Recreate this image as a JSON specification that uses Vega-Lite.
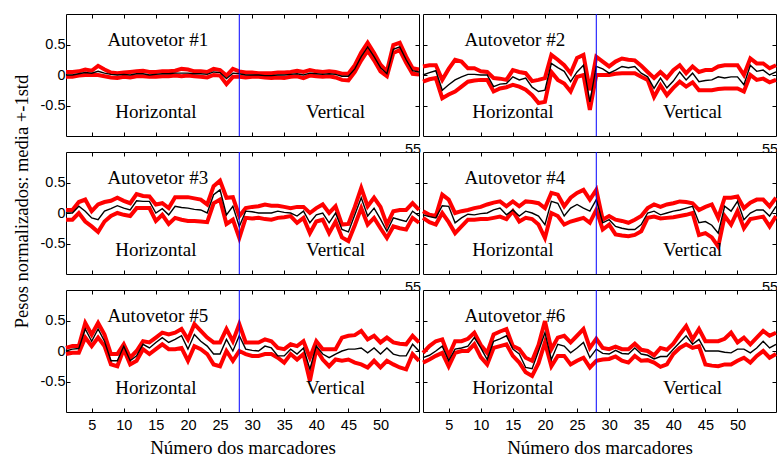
{
"$schema": "https://vega.github.io/schema/vega-lite/v6.json",
"background": "white",
"padding": {"left": 11, "top": 13, "right": 0, "bottom": 0},
"datasets": {
"d": [
{"p":1,"k":1,"m":0,"hi":0.05,"lo":-0.03},{"p":1,"k":2,"m":0,"hi":0.05,"lo":-0.03},{"p":1,"k":3,"m":0.02,"hi":0.06,"lo":-0.01},{"p":1,"k":4,"m":0.04,"hi":0.09,"lo":0},{"p":1,"k":5,"m":0.03,"hi":0.07,"lo":0},{"p":1,"k":6,"m":0.06,"hi":0.15,"lo":0},{"p":1,"k":7,"m":0.03,"hi":0.09,"lo":-0.02},{"p":1,"k":8,"m":0.01,"hi":0.04,"lo":-0.04},{"p":1,"k":9,"m":0,"hi":0.03,"lo":-0.05},{"p":1,"k":10,"m":0.01,"hi":0.04,"lo":-0.03},{"p":1,"k":11,"m":0,"hi":0.05,"lo":-0.04},{"p":1,"k":12,"m":0.02,"hi":0.06,"lo":-0.02},{"p":1,"k":13,"m":0.02,"hi":0.07,"lo":-0.02},{"p":1,"k":14,"m":0,"hi":0.05,"lo":-0.03},{"p":1,"k":15,"m":0.01,"hi":0.05,"lo":-0.03},{"p":1,"k":16,"m":0.02,"hi":0.06,"lo":-0.02},{"p":1,"k":17,"m":0.02,"hi":0.06,"lo":-0.02},{"p":1,"k":18,"m":0.03,"hi":0.07,"lo":-0.01},{"p":1,"k":19,"m":0.03,"hi":0.1,"lo":-0.02},{"p":1,"k":20,"m":0.03,"hi":0.09,"lo":-0.01},{"p":1,"k":21,"m":0.02,"hi":0.06,"lo":-0.02},{"p":1,"k":22,"m":0.02,"hi":0.06,"lo":-0.03},{"p":1,"k":23,"m":0.01,"hi":0.05,"lo":-0.04},{"p":1,"k":24,"m":0.05,"hi":0.1,"lo":0},{"p":1,"k":25,"m":0.04,"hi":0.08,"lo":-0.01},{"p":1,"k":26,"m":-0.06,"hi":-0.01,"lo":-0.15},{"p":1,"k":27,"m":0.03,"hi":0.1,"lo":-0.03},{"p":1,"k":28,"m":0.02,"hi":0.06,"lo":-0.03},{"p":1,"k":29,"m":0,"hi":0.04,"lo":-0.04},{"p":1,"k":30,"m":0,"hi":0.04,"lo":-0.03},{"p":1,"k":31,"m":0,"hi":0.03,"lo":-0.03},{"p":1,"k":32,"m":-0.01,"hi":0.03,"lo":-0.04},{"p":1,"k":33,"m":-0.01,"hi":0.03,"lo":-0.05},{"p":1,"k":34,"m":0,"hi":0.04,"lo":-0.04},{"p":1,"k":35,"m":0,"hi":0.04,"lo":-0.05},{"p":1,"k":36,"m":0.01,"hi":0.05,"lo":-0.03},{"p":1,"k":37,"m":0.02,"hi":0.07,"lo":-0.02},{"p":1,"k":38,"m":0,"hi":0.05,"lo":-0.05},{"p":1,"k":39,"m":0.03,"hi":0.08,"lo":-0.01},{"p":1,"k":40,"m":0.02,"hi":0.06,"lo":-0.02},{"p":1,"k":41,"m":0.01,"hi":0.05,"lo":-0.03},{"p":1,"k":42,"m":0.02,"hi":0.06,"lo":-0.02},{"p":1,"k":43,"m":0.01,"hi":0.05,"lo":-0.04},{"p":1,"k":44,"m":-0.02,"hi":0.02,"lo":-0.08},{"p":1,"k":45,"m":-0.02,"hi":0.02,"lo":-0.09},{"p":1,"k":46,"m":0.1,"hi":0.16,"lo":0.05},{"p":1,"k":47,"m":0.3,"hi":0.37,"lo":0.24},{"p":1,"k":48,"m":0.46,"hi":0.53,"lo":0.4},{"p":1,"k":49,"m":0.3,"hi":0.36,"lo":0.24},{"p":1,"k":50,"m":0.12,"hi":0.17,"lo":0.06},{"p":1,"k":51,"m":0.02,"hi":0.06,"lo":-0.02},{"p":1,"k":52,"m":0.42,"hi":0.49,"lo":0.36},{"p":1,"k":53,"m":0.46,"hi":0.53,"lo":0.41},{"p":1,"k":54,"m":0.25,"hi":0.3,"lo":0.2},{"p":1,"k":55,"m":0.07,"hi":0.11,"lo":0.02},{"p":1,"k":56,"m":0.05,"hi":0.09,"lo":0.01},
{"p":2,"k":1,"m":0,"hi":0.14,"lo":-0.11},{"p":2,"k":2,"m":0.04,"hi":0.16,"lo":-0.07},{"p":2,"k":3,"m":0.07,"hi":0.16,"lo":-0.05},{"p":2,"k":4,"m":-0.25,"hi":-0.08,"lo":-0.38},{"p":2,"k":5,"m":-0.16,"hi":0.1,"lo":-0.32},{"p":2,"k":6,"m":-0.08,"hi":0.25,"lo":-0.27},{"p":2,"k":7,"m":-0.03,"hi":0.22,"lo":-0.19},{"p":2,"k":8,"m":0.01,"hi":0.11,"lo":-0.11},{"p":2,"k":9,"m":0.01,"hi":0.11,"lo":-0.09},{"p":2,"k":10,"m":0,"hi":0.06,"lo":-0.08},{"p":2,"k":11,"m":0,"hi":0.05,"lo":-0.08},{"p":2,"k":12,"m":-0.19,"hi":-0.05,"lo":-0.27},{"p":2,"k":13,"m":-0.15,"hi":-0.06,"lo":-0.22},{"p":2,"k":14,"m":-0.14,"hi":-0.08,"lo":-0.2},{"p":2,"k":15,"m":-0.03,"hi":0.08,"lo":-0.16},{"p":2,"k":16,"m":-0.08,"hi":0.05,"lo":-0.19},{"p":2,"k":17,"m":-0.05,"hi":0.03,"lo":-0.24},{"p":2,"k":18,"m":-0.2,"hi":-0.1,"lo":-0.33},{"p":2,"k":19,"m":-0.27,"hi":-0.08,"lo":-0.46},{"p":2,"k":20,"m":-0.25,"hi":-0.05,"lo":-0.44},{"p":2,"k":21,"m":0.19,"hi":0.33,"lo":0.05},{"p":2,"k":22,"m":0.12,"hi":0.25,"lo":-0.08},{"p":2,"k":23,"m":0.06,"hi":0.16,"lo":-0.14},{"p":2,"k":24,"m":-0.11,"hi":0.03,"lo":-0.27},{"p":2,"k":25,"m":0.05,"hi":0.28,"lo":-0.03},{"p":2,"k":26,"m":0.16,"hi":0.33,"lo":0},{"p":2,"k":27,"m":-0.44,"hi":-0.25,"lo":-0.57},{"p":2,"k":28,"m":0.14,"hi":0.3,"lo":0},{"p":2,"k":29,"m":0.1,"hi":0.22,"lo":0},{"p":2,"k":30,"m":0.03,"hi":0.14,"lo":0},{"p":2,"k":31,"m":0.08,"hi":0.22,"lo":0.02},{"p":2,"k":32,"m":0.14,"hi":0.27,"lo":0.03},{"p":2,"k":33,"m":0.12,"hi":0.25,"lo":0.03},{"p":2,"k":34,"m":0.14,"hi":0.24,"lo":0.03},{"p":2,"k":35,"m":0.03,"hi":0.15,"lo":-0.03},{"p":2,"k":36,"m":-0.03,"hi":0.05,"lo":-0.08},{"p":2,"k":37,"m":-0.22,"hi":-0.05,"lo":-0.36},{"p":2,"k":38,"m":-0.05,"hi":0.05,"lo":-0.17},{"p":2,"k":39,"m":-0.21,"hi":-0.05,"lo":-0.33},{"p":2,"k":40,"m":-0.1,"hi":0.08,"lo":-0.21},{"p":2,"k":41,"m":0.05,"hi":0.16,"lo":-0.11},{"p":2,"k":42,"m":-0.08,"hi":0.03,"lo":-0.19},{"p":2,"k":43,"m":0.03,"hi":0.14,"lo":-0.12},{"p":2,"k":44,"m":-0.11,"hi":0.05,"lo":-0.25},{"p":2,"k":45,"m":-0.09,"hi":0.08,"lo":-0.25},{"p":2,"k":46,"m":-0.08,"hi":0.08,"lo":-0.25},{"p":2,"k":47,"m":-0.03,"hi":0.14,"lo":-0.23},{"p":2,"k":48,"m":-0.05,"hi":0.16,"lo":-0.22},{"p":2,"k":49,"m":-0.03,"hi":0.16,"lo":-0.22},{"p":2,"k":50,"m":-0.03,"hi":0.16,"lo":-0.22},{"p":2,"k":51,"m":-0.16,"hi":0,"lo":-0.27},{"p":2,"k":52,"m":0.16,"hi":0.27,"lo":0},{"p":2,"k":53,"m":0.06,"hi":0.19,"lo":-0.08},{"p":2,"k":54,"m":0.08,"hi":0.19,"lo":-0.06},{"p":2,"k":55,"m":0,"hi":0.11,"lo":-0.12},{"p":2,"k":56,"m":0.05,"hi":0.16,"lo":-0.08},
{"p":3,"k":1,"m":0,"hi":0.05,"lo":-0.11},{"p":3,"k":2,"m":0,"hi":0.05,"lo":-0.11},{"p":3,"k":3,"m":0.11,"hi":0.18,"lo":0},{"p":3,"k":4,"m":0.03,"hi":0.22,"lo":-0.14},{"p":3,"k":5,"m":-0.08,"hi":0.03,"lo":-0.22},{"p":3,"k":6,"m":-0.11,"hi":0.14,"lo":-0.31},{"p":3,"k":7,"m":0.03,"hi":0.18,"lo":-0.14},{"p":3,"k":8,"m":0.07,"hi":0.2,"lo":-0.05},{"p":3,"k":9,"m":0.12,"hi":0.25,"lo":0},{"p":3,"k":10,"m":0.08,"hi":0.2,"lo":-0.03},{"p":3,"k":11,"m":0.05,"hi":0.16,"lo":-0.05},{"p":3,"k":12,"m":0.2,"hi":0.31,"lo":0.08},{"p":3,"k":13,"m":0.19,"hi":0.28,"lo":0.08},{"p":3,"k":14,"m":0.19,"hi":0.27,"lo":0.08},{"p":3,"k":15,"m":0,"hi":0.14,"lo":-0.13},{"p":3,"k":16,"m":0.07,"hi":0.16,"lo":-0.03},{"p":3,"k":17,"m":-0.03,"hi":0.08,"lo":-0.18},{"p":3,"k":18,"m":0.11,"hi":0.26,"lo":-0.08},{"p":3,"k":19,"m":0.09,"hi":0.26,"lo":-0.11},{"p":3,"k":20,"m":0.08,"hi":0.26,"lo":-0.13},{"p":3,"k":21,"m":0.06,"hi":0.24,"lo":-0.13},{"p":3,"k":22,"m":0.05,"hi":0.22,"lo":-0.14},{"p":3,"k":23,"m":0,"hi":0.14,"lo":-0.15},{"p":3,"k":24,"m":0.3,"hi":0.44,"lo":0.16},{"p":3,"k":25,"m":0.38,"hi":0.53,"lo":0.22},{"p":3,"k":26,"m":-0.03,"hi":0.25,"lo":-0.18},{"p":3,"k":27,"m":0.11,"hi":0.26,"lo":-0.11},{"p":3,"k":28,"m":-0.22,"hi":-0.05,"lo":-0.41},{"p":3,"k":29,"m":0.03,"hi":0.08,"lo":-0.08},{"p":3,"k":30,"m":0.02,"hi":0.1,"lo":-0.09},{"p":3,"k":31,"m":0,"hi":0.11,"lo":-0.08},{"p":3,"k":32,"m":0,"hi":0.14,"lo":-0.1},{"p":3,"k":33,"m":0,"hi":0.12,"lo":-0.11},{"p":3,"k":34,"m":0.03,"hi":0.12,"lo":-0.08},{"p":3,"k":35,"m":0.01,"hi":0.1,"lo":-0.07},{"p":3,"k":36,"m":0,"hi":0.08,"lo":-0.05},{"p":3,"k":37,"m":-0.05,"hi":0.1,"lo":-0.16},{"p":3,"k":38,"m":0.03,"hi":0.1,"lo":-0.08},{"p":3,"k":39,"m":-0.16,"hi":0,"lo":-0.33},{"p":3,"k":40,"m":-0.03,"hi":0.08,"lo":-0.14},{"p":3,"k":41,"m":0,"hi":0.14,"lo":-0.11},{"p":3,"k":42,"m":-0.16,"hi":0,"lo":-0.33},{"p":3,"k":43,"m":0,"hi":0.11,"lo":-0.14},{"p":3,"k":44,"m":-0.27,"hi":-0.19,"lo":-0.4},{"p":3,"k":45,"m":-0.31,"hi":-0.18,"lo":-0.46},{"p":3,"k":46,"m":-0.03,"hi":0.1,"lo":-0.2},{"p":3,"k":47,"m":0.25,"hi":0.41,"lo":0.08},{"p":3,"k":48,"m":-0.05,"hi":0.11,"lo":-0.19},{"p":3,"k":49,"m":0.08,"hi":0.25,"lo":-0.08},{"p":3,"k":50,"m":-0.1,"hi":0.1,"lo":-0.25},{"p":3,"k":51,"m":-0.3,"hi":-0.19,"lo":-0.41},{"p":3,"k":52,"m":-0.08,"hi":0.03,"lo":-0.22},{"p":3,"k":53,"m":-0.11,"hi":0.05,"lo":-0.25},{"p":3,"k":54,"m":-0.14,"hi":0.05,"lo":-0.27},{"p":3,"k":55,"m":0.03,"hi":0.16,"lo":-0.08},{"p":3,"k":56,"m":-0.05,"hi":0.05,"lo":-0.16},
{"p":4,"k":1,"m":-0.03,"hi":0.03,"lo":-0.08},{"p":4,"k":2,"m":-0.06,"hi":-0.03,"lo":-0.15},{"p":4,"k":3,"m":-0.08,"hi":-0.05,"lo":-0.19},{"p":4,"k":4,"m":0.12,"hi":0.3,"lo":0},{"p":4,"k":5,"m":0.11,"hi":0.22,"lo":-0.15},{"p":4,"k":6,"m":-0.16,"hi":0,"lo":-0.33},{"p":4,"k":7,"m":-0.08,"hi":0.03,"lo":-0.22},{"p":4,"k":8,"m":-0.02,"hi":0.05,"lo":-0.11},{"p":4,"k":9,"m":-0.03,"hi":0.08,"lo":-0.11},{"p":4,"k":10,"m":-0.01,"hi":0.1,"lo":-0.1},{"p":4,"k":11,"m":0,"hi":0.14,"lo":-0.1},{"p":4,"k":12,"m":0.05,"hi":0.17,"lo":-0.08},{"p":4,"k":13,"m":0.08,"hi":0.19,"lo":-0.06},{"p":4,"k":14,"m":-0.03,"hi":0.11,"lo":-0.1},{"p":4,"k":15,"m":0.05,"hi":0.19,"lo":0.03},{"p":4,"k":16,"m":-0.05,"hi":0.11,"lo":-0.14},{"p":4,"k":17,"m":0.03,"hi":0.19,"lo":-0.08},{"p":4,"k":18,"m":0,"hi":0.18,"lo":-0.1},{"p":4,"k":19,"m":-0.05,"hi":0.16,"lo":-0.19},{"p":4,"k":20,"m":-0.19,"hi":0.08,"lo":-0.41},{"p":4,"k":21,"m":0.19,"hi":0.33,"lo":0},{"p":4,"k":22,"m":0.16,"hi":0.3,"lo":-0.05},{"p":4,"k":23,"m":-0.05,"hi":0.11,"lo":-0.19},{"p":4,"k":24,"m":0.08,"hi":0.25,"lo":-0.14},{"p":4,"k":25,"m":0.14,"hi":0.33,"lo":-0.11},{"p":4,"k":26,"m":0.08,"hi":0.38,"lo":-0.08},{"p":4,"k":27,"m":0.03,"hi":0.22,"lo":-0.16},{"p":4,"k":28,"m":0.22,"hi":0.38,"lo":0.05},{"p":4,"k":29,"m":-0.16,"hi":-0.11,"lo":-0.27},{"p":4,"k":30,"m":-0.11,"hi":-0.05,"lo":-0.19},{"p":4,"k":31,"m":-0.22,"hi":-0.11,"lo":-0.35},{"p":4,"k":32,"m":-0.25,"hi":-0.13,"lo":-0.37},{"p":4,"k":33,"m":-0.27,"hi":-0.16,"lo":-0.38},{"p":4,"k":34,"m":-0.27,"hi":-0.11,"lo":-0.36},{"p":4,"k":35,"m":-0.19,"hi":-0.05,"lo":-0.3},{"p":4,"k":36,"m":0,"hi":0.08,"lo":-0.08},{"p":4,"k":37,"m":0.03,"hi":0.14,"lo":-0.06},{"p":4,"k":38,"m":-0.03,"hi":0.1,"lo":-0.09},{"p":4,"k":39,"m":0,"hi":0.14,"lo":-0.08},{"p":4,"k":40,"m":0.03,"hi":0.16,"lo":-0.07},{"p":4,"k":41,"m":0.05,"hi":0.19,"lo":-0.05},{"p":4,"k":42,"m":0.08,"hi":0.18,"lo":-0.03},{"p":4,"k":43,"m":0.11,"hi":0.16,"lo":0},{"p":4,"k":44,"m":-0.16,"hi":0.05,"lo":-0.36},{"p":4,"k":45,"m":-0.14,"hi":0.1,"lo":-0.33},{"p":4,"k":46,"m":-0.2,"hi":0.14,"lo":-0.4},{"p":4,"k":47,"m":-0.33,"hi":-0.08,"lo":-0.55},{"p":4,"k":48,"m":0.11,"hi":0.25,"lo":-0.05},{"p":4,"k":49,"m":0.03,"hi":0.25,"lo":-0.19},{"p":4,"k":50,"m":0.19,"hi":0.27,"lo":0.03},{"p":4,"k":51,"m":-0.11,"hi":0.08,"lo":-0.25},{"p":4,"k":52,"m":0,"hi":0.17,"lo":-0.1},{"p":4,"k":53,"m":0.05,"hi":0.22,"lo":-0.08},{"p":4,"k":54,"m":0.05,"hi":0.22,"lo":-0.06},{"p":4,"k":55,"m":-0.05,"hi":0.11,"lo":-0.22},{"p":4,"k":56,"m":0.11,"hi":0.25,"lo":-0.05},
{"p":5,"k":1,"m":0,"hi":0.05,"lo":-0.05},{"p":5,"k":2,"m":0.03,"hi":0.08,"lo":-0.03},{"p":5,"k":3,"m":0.04,"hi":0.08,"lo":-0.03},{"p":5,"k":4,"m":0.36,"hi":0.46,"lo":0.22},{"p":5,"k":5,"m":0.16,"hi":0.27,"lo":0.08},{"p":5,"k":6,"m":0.36,"hi":0.46,"lo":0.22},{"p":5,"k":7,"m":0.16,"hi":0.27,"lo":0.08},{"p":5,"k":8,"m":-0.16,"hi":-0.05,"lo":-0.22},{"p":5,"k":9,"m":-0.16,"hi":-0.05,"lo":-0.25},{"p":5,"k":10,"m":0.08,"hi":0.11,"lo":0.03},{"p":5,"k":11,"m":-0.16,"hi":-0.11,"lo":-0.22},{"p":5,"k":12,"m":-0.08,"hi":0,"lo":-0.16},{"p":5,"k":13,"m":0.11,"hi":0.16,"lo":0.03},{"p":5,"k":14,"m":0.05,"hi":0.14,"lo":-0.05},{"p":5,"k":15,"m":0.14,"hi":0.22,"lo":0.03},{"p":5,"k":16,"m":0.22,"hi":0.3,"lo":0.11},{"p":5,"k":17,"m":0.14,"hi":0.27,"lo":0.03},{"p":5,"k":18,"m":0.19,"hi":0.3,"lo":0.03},{"p":5,"k":19,"m":0.25,"hi":0.36,"lo":0.05},{"p":5,"k":20,"m":0.03,"hi":0.19,"lo":-0.16},{"p":5,"k":21,"m":0.27,"hi":0.44,"lo":0.08},{"p":5,"k":22,"m":0.16,"hi":0.33,"lo":0.03},{"p":5,"k":23,"m":0.08,"hi":0.22,"lo":-0.05},{"p":5,"k":24,"m":-0.05,"hi":0.14,"lo":-0.22},{"p":5,"k":25,"m":-0.05,"hi":0.14,"lo":-0.25},{"p":5,"k":26,"m":0.19,"hi":0.36,"lo":0},{"p":5,"k":27,"m":0,"hi":0.16,"lo":-0.16},{"p":5,"k":28,"m":0.25,"hi":0.44,"lo":0},{"p":5,"k":29,"m":0.03,"hi":0.14,"lo":-0.05},{"p":5,"k":30,"m":0.01,"hi":0.14,"lo":-0.08},{"p":5,"k":31,"m":0,"hi":0.14,"lo":-0.08},{"p":5,"k":32,"m":0.08,"hi":0.19,"lo":-0.05},{"p":5,"k":33,"m":0.05,"hi":0.16,"lo":-0.05},{"p":5,"k":34,"m":-0.08,"hi":0.05,"lo":-0.11},{"p":5,"k":35,"m":-0.08,"hi":0.03,"lo":-0.19},{"p":5,"k":36,"m":0.03,"hi":0.11,"lo":-0.05},{"p":5,"k":37,"m":-0.05,"hi":0.08,"lo":-0.14},{"p":5,"k":38,"m":0.05,"hi":0.16,"lo":-0.05},{"p":5,"k":39,"m":-0.3,"hi":-0.11,"lo":-0.49},{"p":5,"k":40,"m":0.08,"hi":0.16,"lo":0.03},{"p":5,"k":41,"m":-0.05,"hi":0.03,"lo":-0.14},{"p":5,"k":42,"m":-0.11,"hi":0.03,"lo":-0.25},{"p":5,"k":43,"m":-0.05,"hi":0.03,"lo":-0.14},{"p":5,"k":44,"m":0,"hi":0.22,"lo":-0.16},{"p":5,"k":45,"m":0.03,"hi":0.25,"lo":-0.14},{"p":5,"k":46,"m":0.03,"hi":0.26,"lo":-0.19},{"p":5,"k":47,"m":0.05,"hi":0.33,"lo":-0.22},{"p":5,"k":48,"m":-0.03,"hi":0.19,"lo":-0.27},{"p":5,"k":49,"m":0.05,"hi":0.25,"lo":-0.16},{"p":5,"k":50,"m":-0.05,"hi":0.14,"lo":-0.27},{"p":5,"k":51,"m":0.05,"hi":0.22,"lo":-0.16},{"p":5,"k":52,"m":-0.05,"hi":0.14,"lo":-0.22},{"p":5,"k":53,"m":-0.08,"hi":0.12,"lo":-0.27},{"p":5,"k":54,"m":-0.08,"hi":0.11,"lo":-0.3},{"p":5,"k":55,"m":0.11,"hi":0.25,"lo":-0.05},{"p":5,"k":56,"m":0,"hi":0.14,"lo":-0.16},
{"p":6,"k":1,"m":-0.11,"hi":-0.03,"lo":-0.19},{"p":6,"k":2,"m":-0.07,"hi":0.08,"lo":-0.14},{"p":6,"k":3,"m":0,"hi":0.16,"lo":-0.08},{"p":6,"k":4,"m":0.08,"hi":0.19,"lo":-0.03},{"p":6,"k":5,"m":-0.16,"hi":-0.08,"lo":-0.25},{"p":6,"k":6,"m":0.03,"hi":0.16,"lo":-0.03},{"p":6,"k":7,"m":0.05,"hi":0.16,"lo":0},{"p":6,"k":8,"m":0.08,"hi":0.2,"lo":0},{"p":6,"k":9,"m":0.22,"hi":0.3,"lo":0.11},{"p":6,"k":10,"m":0.05,"hi":0.1,"lo":-0.1},{"p":6,"k":11,"m":-0.14,"hi":-0.03,"lo":-0.22},{"p":6,"k":12,"m":0.16,"hi":0.27,"lo":0.05},{"p":6,"k":13,"m":0.2,"hi":0.32,"lo":0.08},{"p":6,"k":14,"m":0.25,"hi":0.36,"lo":0.11},{"p":6,"k":15,"m":0.03,"hi":0.08,"lo":-0.08},{"p":6,"k":16,"m":-0.05,"hi":0.03,"lo":-0.19},{"p":6,"k":17,"m":-0.27,"hi":-0.11,"lo":-0.35},{"p":6,"k":18,"m":-0.29,"hi":-0.16,"lo":-0.41},{"p":6,"k":19,"m":0,"hi":0.1,"lo":-0.2},{"p":6,"k":20,"m":0.3,"hi":0.49,"lo":0.14},{"p":6,"k":21,"m":-0.14,"hi":0.03,"lo":-0.25},{"p":6,"k":22,"m":0.11,"hi":0.22,"lo":-0.08},{"p":6,"k":23,"m":0.08,"hi":0.25,"lo":-0.08},{"p":6,"k":24,"m":-0.03,"hi":0.14,"lo":-0.22},{"p":6,"k":25,"m":0.05,"hi":0.25,"lo":-0.16},{"p":6,"k":26,"m":0.14,"hi":0.36,"lo":-0.11},{"p":6,"k":27,"m":-0.11,"hi":0.05,"lo":-0.27},{"p":6,"k":28,"m":0.03,"hi":0.2,"lo":-0.16},{"p":6,"k":29,"m":-0.04,"hi":0.05,"lo":-0.14},{"p":6,"k":30,"m":-0.05,"hi":0.03,"lo":-0.13},{"p":6,"k":31,"m":0.01,"hi":0.07,"lo":-0.09},{"p":6,"k":32,"m":-0.04,"hi":0.03,"lo":-0.16},{"p":6,"k":33,"m":-0.05,"hi":0.03,"lo":-0.19},{"p":6,"k":34,"m":0.05,"hi":0.12,"lo":-0.08},{"p":6,"k":35,"m":-0.05,"hi":0.02,"lo":-0.16},{"p":6,"k":36,"m":-0.07,"hi":0,"lo":-0.15},{"p":6,"k":37,"m":-0.13,"hi":-0.07,"lo":-0.19},{"p":6,"k":38,"m":-0.09,"hi":0.05,"lo":-0.26},{"p":6,"k":39,"m":-0.09,"hi":0.02,"lo":-0.22},{"p":6,"k":40,"m":0.03,"hi":0.12,"lo":-0.05},{"p":6,"k":41,"m":0.14,"hi":0.27,"lo":0.05},{"p":6,"k":42,"m":0.25,"hi":0.41,"lo":0.11},{"p":6,"k":43,"m":0.11,"hi":0.19,"lo":0.05},{"p":6,"k":44,"m":0.19,"hi":0.36,"lo":0.08},{"p":6,"k":45,"m":0,"hi":0.16,"lo":-0.22},{"p":6,"k":46,"m":0,"hi":0.16,"lo":-0.24},{"p":6,"k":47,"m":0,"hi":0.16,"lo":-0.25},{"p":6,"k":48,"m":-0.02,"hi":0.2,"lo":-0.22},{"p":6,"k":49,"m":-0.03,"hi":0.3,"lo":-0.22},{"p":6,"k":50,"m":0.03,"hi":0.14,"lo":-0.16},{"p":6,"k":51,"m":0.03,"hi":0.22,"lo":-0.11},{"p":6,"k":52,"m":-0.03,"hi":0.11,"lo":-0.19},{"p":6,"k":53,"m":0.05,"hi":0.22,"lo":-0.08},{"p":6,"k":54,"m":0.16,"hi":0.33,"lo":0},{"p":6,"k":55,"m":0.05,"hi":0.25,"lo":-0.11},{"p":6,"k":56,"m":0.11,"hi":0.3,"lo":-0.05}
],
"t": [
{"p":1,"x":15.3,"y":0.58,"label":"Autovetor #1"},{"p":1,"x":15,"y":-0.6,"label":"Horizontal"},{"p":1,"x":43,"y":-0.6,"label":"Vertical"},
{"p":2,"x":15.3,"y":0.58,"label":"Autovetor #2"},{"p":2,"x":15,"y":-0.6,"label":"Horizontal"},{"p":2,"x":43,"y":-0.6,"label":"Vertical"},
{"p":3,"x":15.3,"y":0.58,"label":"Autovetor #3"},{"p":3,"x":15,"y":-0.6,"label":"Horizontal"},{"p":3,"x":43,"y":-0.6,"label":"Vertical"},
{"p":4,"x":15.3,"y":0.58,"label":"Autovetor #4"},{"p":4,"x":15,"y":-0.6,"label":"Horizontal"},{"p":4,"x":43,"y":-0.6,"label":"Vertical"},
{"p":5,"x":15.3,"y":0.58,"label":"Autovetor #5"},{"p":5,"x":15,"y":-0.6,"label":"Horizontal"},{"p":5,"x":43,"y":-0.6,"label":"Vertical"},
{"p":6,"x":15.3,"y":0.58,"label":"Autovetor #6"},{"p":6,"x":15,"y":-0.6,"label":"Horizontal"},{"p":6,"x":43,"y":-0.6,"label":"Vertical"}
]
},
"bounds": "flush",
"columns": 2,
"spacing": {"row": 16, "column": 4},
"concat": [
{"width":353,"height":122,"layer":[
{"data":{"name":"d"},"transform":[{"filter":"datum.p == 1"}],"mark":{"type":"line","color":"#ff0000","strokeWidth":4},"encoding":{"x":{"field":"k","type":"quantitative","scale":{"domain":[1,56],"nice":false,"zero":false},"axis":{"orient":"bottom","values":[5,10,15,20,25,30,35,40,45,50,55],"labelExpr":"datum.value == 55 ? '55' : ''","tickOpacity":{"condition":{"test":"datum.value == 55","value":0},"value":1},"labelFlush":false,"labelPadding":10,"title":null}},"y":{"field":"hi","type":"quantitative","scale":{"domain":[-1,1],"nice":false,"zero":false},"axis":{"orient":"left","values":[-0.5,0,0.5],"labelExpr":"datum.value == 0 ? '0' : (datum.value > 0 ? '0.5' : '-0.5')","labelPadding":5,"title":null}}}},
{"data":{"name":"d"},"transform":[{"filter":"datum.p == 1"}],"mark":{"type":"line","color":"#ff0000","strokeWidth":4},"encoding":{"x":{"field":"k","type":"quantitative","axis":{"orient":"top","values":[5,10,15,20,25,30,35,40,45,50],"labels":false,"title":null}},"y":{"field":"lo","type":"quantitative","axis":{"orient":"right","values":[-0.5,0,0.5],"labels":false,"title":null}}}},
{"data":{"name":"d"},"transform":[{"filter":"datum.p == 1"}],"mark":{"type":"line","color":"#000000","strokeWidth":1.4},"encoding":{"x":{"field":"k","type":"quantitative","axis":null},"y":{"field":"m","type":"quantitative","axis":null}}},
{"data":{"values":[{"k":28}]},"mark":{"type":"rule","color":"#0000ff","strokeWidth":1},"encoding":{"x":{"field":"k","type":"quantitative","axis":null}}},
{"data":{"name":"t"},"transform":[{"filter":"datum.p == 1"}],"mark":{"type":"text","font":"Liberation Serif","fontSize":19,"color":"#000000"},"encoding":{"x":{"field":"x","type":"quantitative","axis":null},"y":{"field":"y","type":"quantitative","axis":null},"text":{"field":"label","type":"nominal"}}}
],"resolve":{"axis":{"x":"independent","y":"independent"}}},
{"width":353,"height":122,"layer":[
{"data":{"name":"d"},"transform":[{"filter":"datum.p == 2"}],"mark":{"type":"line","color":"#ff0000","strokeWidth":4},"encoding":{"x":{"field":"k","type":"quantitative","scale":{"domain":[1,56],"nice":false,"zero":false},"axis":{"orient":"bottom","values":[5,10,15,20,25,30,35,40,45,50,55],"labelExpr":"datum.value == 55 ? '55' : ''","tickOpacity":{"condition":{"test":"datum.value == 55","value":0},"value":1},"labelFlush":false,"labelPadding":10,"title":null}},"y":{"field":"hi","type":"quantitative","scale":{"domain":[-1,1],"nice":false,"zero":false},"axis":{"orient":"left","values":[-0.5,0,0.5],"labels":false,"title":null}}}},
{"data":{"name":"d"},"transform":[{"filter":"datum.p == 2"}],"mark":{"type":"line","color":"#ff0000","strokeWidth":4},"encoding":{"x":{"field":"k","type":"quantitative","axis":{"orient":"top","values":[5,10,15,20,25,30,35,40,45,50],"labels":false,"title":null}},"y":{"field":"lo","type":"quantitative","axis":{"orient":"right","values":[-0.5,0,0.5],"labels":false,"title":null}}}},
{"data":{"name":"d"},"transform":[{"filter":"datum.p == 2"}],"mark":{"type":"line","color":"#000000","strokeWidth":1.4},"encoding":{"x":{"field":"k","type":"quantitative","axis":null},"y":{"field":"m","type":"quantitative","axis":null}}},
{"data":{"values":[{"k":28}]},"mark":{"type":"rule","color":"#0000ff","strokeWidth":1},"encoding":{"x":{"field":"k","type":"quantitative","axis":null}}},
{"data":{"name":"t"},"transform":[{"filter":"datum.p == 2"}],"mark":{"type":"text","font":"Liberation Serif","fontSize":19,"color":"#000000"},"encoding":{"x":{"field":"x","type":"quantitative","axis":null},"y":{"field":"y","type":"quantitative","axis":null},"text":{"field":"label","type":"nominal"}}}
],"resolve":{"axis":{"x":"independent","y":"independent"}}},
{"width":353,"height":122,"layer":[
{"data":{"name":"d"},"transform":[{"filter":"datum.p == 3"}],"mark":{"type":"line","color":"#ff0000","strokeWidth":4},"encoding":{"x":{"field":"k","type":"quantitative","scale":{"domain":[1,56],"nice":false,"zero":false},"axis":{"orient":"bottom","values":[5,10,15,20,25,30,35,40,45,50,55],"labelExpr":"datum.value == 55 ? '55' : ''","tickOpacity":{"condition":{"test":"datum.value == 55","value":0},"value":1},"labelFlush":false,"labelPadding":10,"title":null}},"y":{"field":"hi","type":"quantitative","scale":{"domain":[-1,1],"nice":false,"zero":false},"axis":{"orient":"left","values":[-0.5,0,0.5],"labelExpr":"datum.value == 0 ? '0' : (datum.value > 0 ? '0.5' : '-0.5')","labelPadding":5,"title":"Pesos normalizados: media +-1std","titlePadding":9,"titleFontSize":18.5,"titleY":49}}}},
{"data":{"name":"d"},"transform":[{"filter":"datum.p == 3"}],"mark":{"type":"line","color":"#ff0000","strokeWidth":4},"encoding":{"x":{"field":"k","type":"quantitative","axis":{"orient":"top","values":[5,10,15,20,25,30,35,40,45,50],"labels":false,"title":null}},"y":{"field":"lo","type":"quantitative","axis":{"orient":"right","values":[-0.5,0,0.5],"labels":false,"title":null}}}},
{"data":{"name":"d"},"transform":[{"filter":"datum.p == 3"}],"mark":{"type":"line","color":"#000000","strokeWidth":1.4},"encoding":{"x":{"field":"k","type":"quantitative","axis":null},"y":{"field":"m","type":"quantitative","axis":null}}},
{"data":{"values":[{"k":28}]},"mark":{"type":"rule","color":"#0000ff","strokeWidth":1},"encoding":{"x":{"field":"k","type":"quantitative","axis":null}}},
{"data":{"name":"t"},"transform":[{"filter":"datum.p == 3"}],"mark":{"type":"text","font":"Liberation Serif","fontSize":19,"color":"#000000"},"encoding":{"x":{"field":"x","type":"quantitative","axis":null},"y":{"field":"y","type":"quantitative","axis":null},"text":{"field":"label","type":"nominal"}}}
],"resolve":{"axis":{"x":"independent","y":"independent"}}},
{"width":353,"height":122,"layer":[
{"data":{"name":"d"},"transform":[{"filter":"datum.p == 4"}],"mark":{"type":"line","color":"#ff0000","strokeWidth":4},"encoding":{"x":{"field":"k","type":"quantitative","scale":{"domain":[1,56],"nice":false,"zero":false},"axis":{"orient":"bottom","values":[5,10,15,20,25,30,35,40,45,50,55],"labelExpr":"datum.value == 55 ? '55' : ''","tickOpacity":{"condition":{"test":"datum.value == 55","value":0},"value":1},"labelFlush":false,"labelPadding":10,"title":null}},"y":{"field":"hi","type":"quantitative","scale":{"domain":[-1,1],"nice":false,"zero":false},"axis":{"orient":"left","values":[-0.5,0,0.5],"labels":false,"title":null}}}},
{"data":{"name":"d"},"transform":[{"filter":"datum.p == 4"}],"mark":{"type":"line","color":"#ff0000","strokeWidth":4},"encoding":{"x":{"field":"k","type":"quantitative","axis":{"orient":"top","values":[5,10,15,20,25,30,35,40,45,50],"labels":false,"title":null}},"y":{"field":"lo","type":"quantitative","axis":{"orient":"right","values":[-0.5,0,0.5],"labels":false,"title":null}}}},
{"data":{"name":"d"},"transform":[{"filter":"datum.p == 4"}],"mark":{"type":"line","color":"#000000","strokeWidth":1.4},"encoding":{"x":{"field":"k","type":"quantitative","axis":null},"y":{"field":"m","type":"quantitative","axis":null}}},
{"data":{"values":[{"k":28}]},"mark":{"type":"rule","color":"#0000ff","strokeWidth":1},"encoding":{"x":{"field":"k","type":"quantitative","axis":null}}},
{"data":{"name":"t"},"transform":[{"filter":"datum.p == 4"}],"mark":{"type":"text","font":"Liberation Serif","fontSize":19,"color":"#000000"},"encoding":{"x":{"field":"x","type":"quantitative","axis":null},"y":{"field":"y","type":"quantitative","axis":null},"text":{"field":"label","type":"nominal"}}}
],"resolve":{"axis":{"x":"independent","y":"independent"}}},
{"width":353,"height":122,"layer":[
{"data":{"name":"d"},"transform":[{"filter":"datum.p == 5"}],"mark":{"type":"line","color":"#ff0000","strokeWidth":4},"encoding":{"x":{"field":"k","type":"quantitative","scale":{"domain":[1,56],"nice":false,"zero":false},"axis":{"orient":"bottom","values":[5,10,15,20,25,30,35,40,45,50],"labelFlush":false,"labelPadding":10,"title":"Número dos marcadores","titlePadding":7}},"y":{"field":"hi","type":"quantitative","scale":{"domain":[-1,1],"nice":false,"zero":false},"axis":{"orient":"left","values":[-0.5,0,0.5],"labelExpr":"datum.value == 0 ? '0' : (datum.value > 0 ? '0.5' : '-0.5')","labelPadding":5,"title":null}}}},
{"data":{"name":"d"},"transform":[{"filter":"datum.p == 5"}],"mark":{"type":"line","color":"#ff0000","strokeWidth":4},"encoding":{"x":{"field":"k","type":"quantitative","axis":{"orient":"top","values":[5,10,15,20,25,30,35,40,45,50],"labels":false,"title":null}},"y":{"field":"lo","type":"quantitative","axis":{"orient":"right","values":[-0.5,0,0.5],"labels":false,"title":null}}}},
{"data":{"name":"d"},"transform":[{"filter":"datum.p == 5"}],"mark":{"type":"line","color":"#000000","strokeWidth":1.4},"encoding":{"x":{"field":"k","type":"quantitative","axis":null},"y":{"field":"m","type":"quantitative","axis":null}}},
{"data":{"values":[{"k":28}]},"mark":{"type":"rule","color":"#0000ff","strokeWidth":1},"encoding":{"x":{"field":"k","type":"quantitative","axis":null}}},
{"data":{"name":"t"},"transform":[{"filter":"datum.p == 5"}],"mark":{"type":"text","font":"Liberation Serif","fontSize":19,"color":"#000000"},"encoding":{"x":{"field":"x","type":"quantitative","axis":null},"y":{"field":"y","type":"quantitative","axis":null},"text":{"field":"label","type":"nominal"}}}
],"resolve":{"axis":{"x":"independent","y":"independent"}}},
{"width":353,"height":122,"layer":[
{"data":{"name":"d"},"transform":[{"filter":"datum.p == 6"}],"mark":{"type":"line","color":"#ff0000","strokeWidth":4},"encoding":{"x":{"field":"k","type":"quantitative","scale":{"domain":[1,56],"nice":false,"zero":false},"axis":{"orient":"bottom","values":[5,10,15,20,25,30,35,40,45,50],"labelFlush":false,"labelPadding":10,"title":"Número dos marcadores","titlePadding":7}},"y":{"field":"hi","type":"quantitative","scale":{"domain":[-1,1],"nice":false,"zero":false},"axis":{"orient":"left","values":[-0.5,0,0.5],"labels":false,"title":null}}}},
{"data":{"name":"d"},"transform":[{"filter":"datum.p == 6"}],"mark":{"type":"line","color":"#ff0000","strokeWidth":4},"encoding":{"x":{"field":"k","type":"quantitative","axis":{"orient":"top","values":[5,10,15,20,25,30,35,40,45,50],"labels":false,"title":null}},"y":{"field":"lo","type":"quantitative","axis":{"orient":"right","values":[-0.5,0,0.5],"labels":false,"title":null}}}},
{"data":{"name":"d"},"transform":[{"filter":"datum.p == 6"}],"mark":{"type":"line","color":"#000000","strokeWidth":1.4},"encoding":{"x":{"field":"k","type":"quantitative","axis":null},"y":{"field":"m","type":"quantitative","axis":null}}},
{"data":{"values":[{"k":28}]},"mark":{"type":"rule","color":"#0000ff","strokeWidth":1},"encoding":{"x":{"field":"k","type":"quantitative","axis":null}}},
{"data":{"name":"t"},"transform":[{"filter":"datum.p == 6"}],"mark":{"type":"text","font":"Liberation Serif","fontSize":19,"color":"#000000"},"encoding":{"x":{"field":"x","type":"quantitative","axis":null},"y":{"field":"y","type":"quantitative","axis":null},"text":{"field":"label","type":"nominal"}}}
],"resolve":{"axis":{"x":"independent","y":"independent"}}}
],
"config": {
"view": {"stroke": "#000000", "strokeWidth": 1, "fill": "white"},
"axis": {"domain": false, "grid": false, "ticks": true, "tickColor": "#000000", "tickSize": -4, "tickWidth": 1, "labelFont": "Liberation Sans", "labelFontSize": 14.5, "labelColor": "#000000", "titleFont": "Liberation Serif", "titleFontSize": 19, "titleFontWeight": "normal", "titleColor": "#000000"}
}
}
